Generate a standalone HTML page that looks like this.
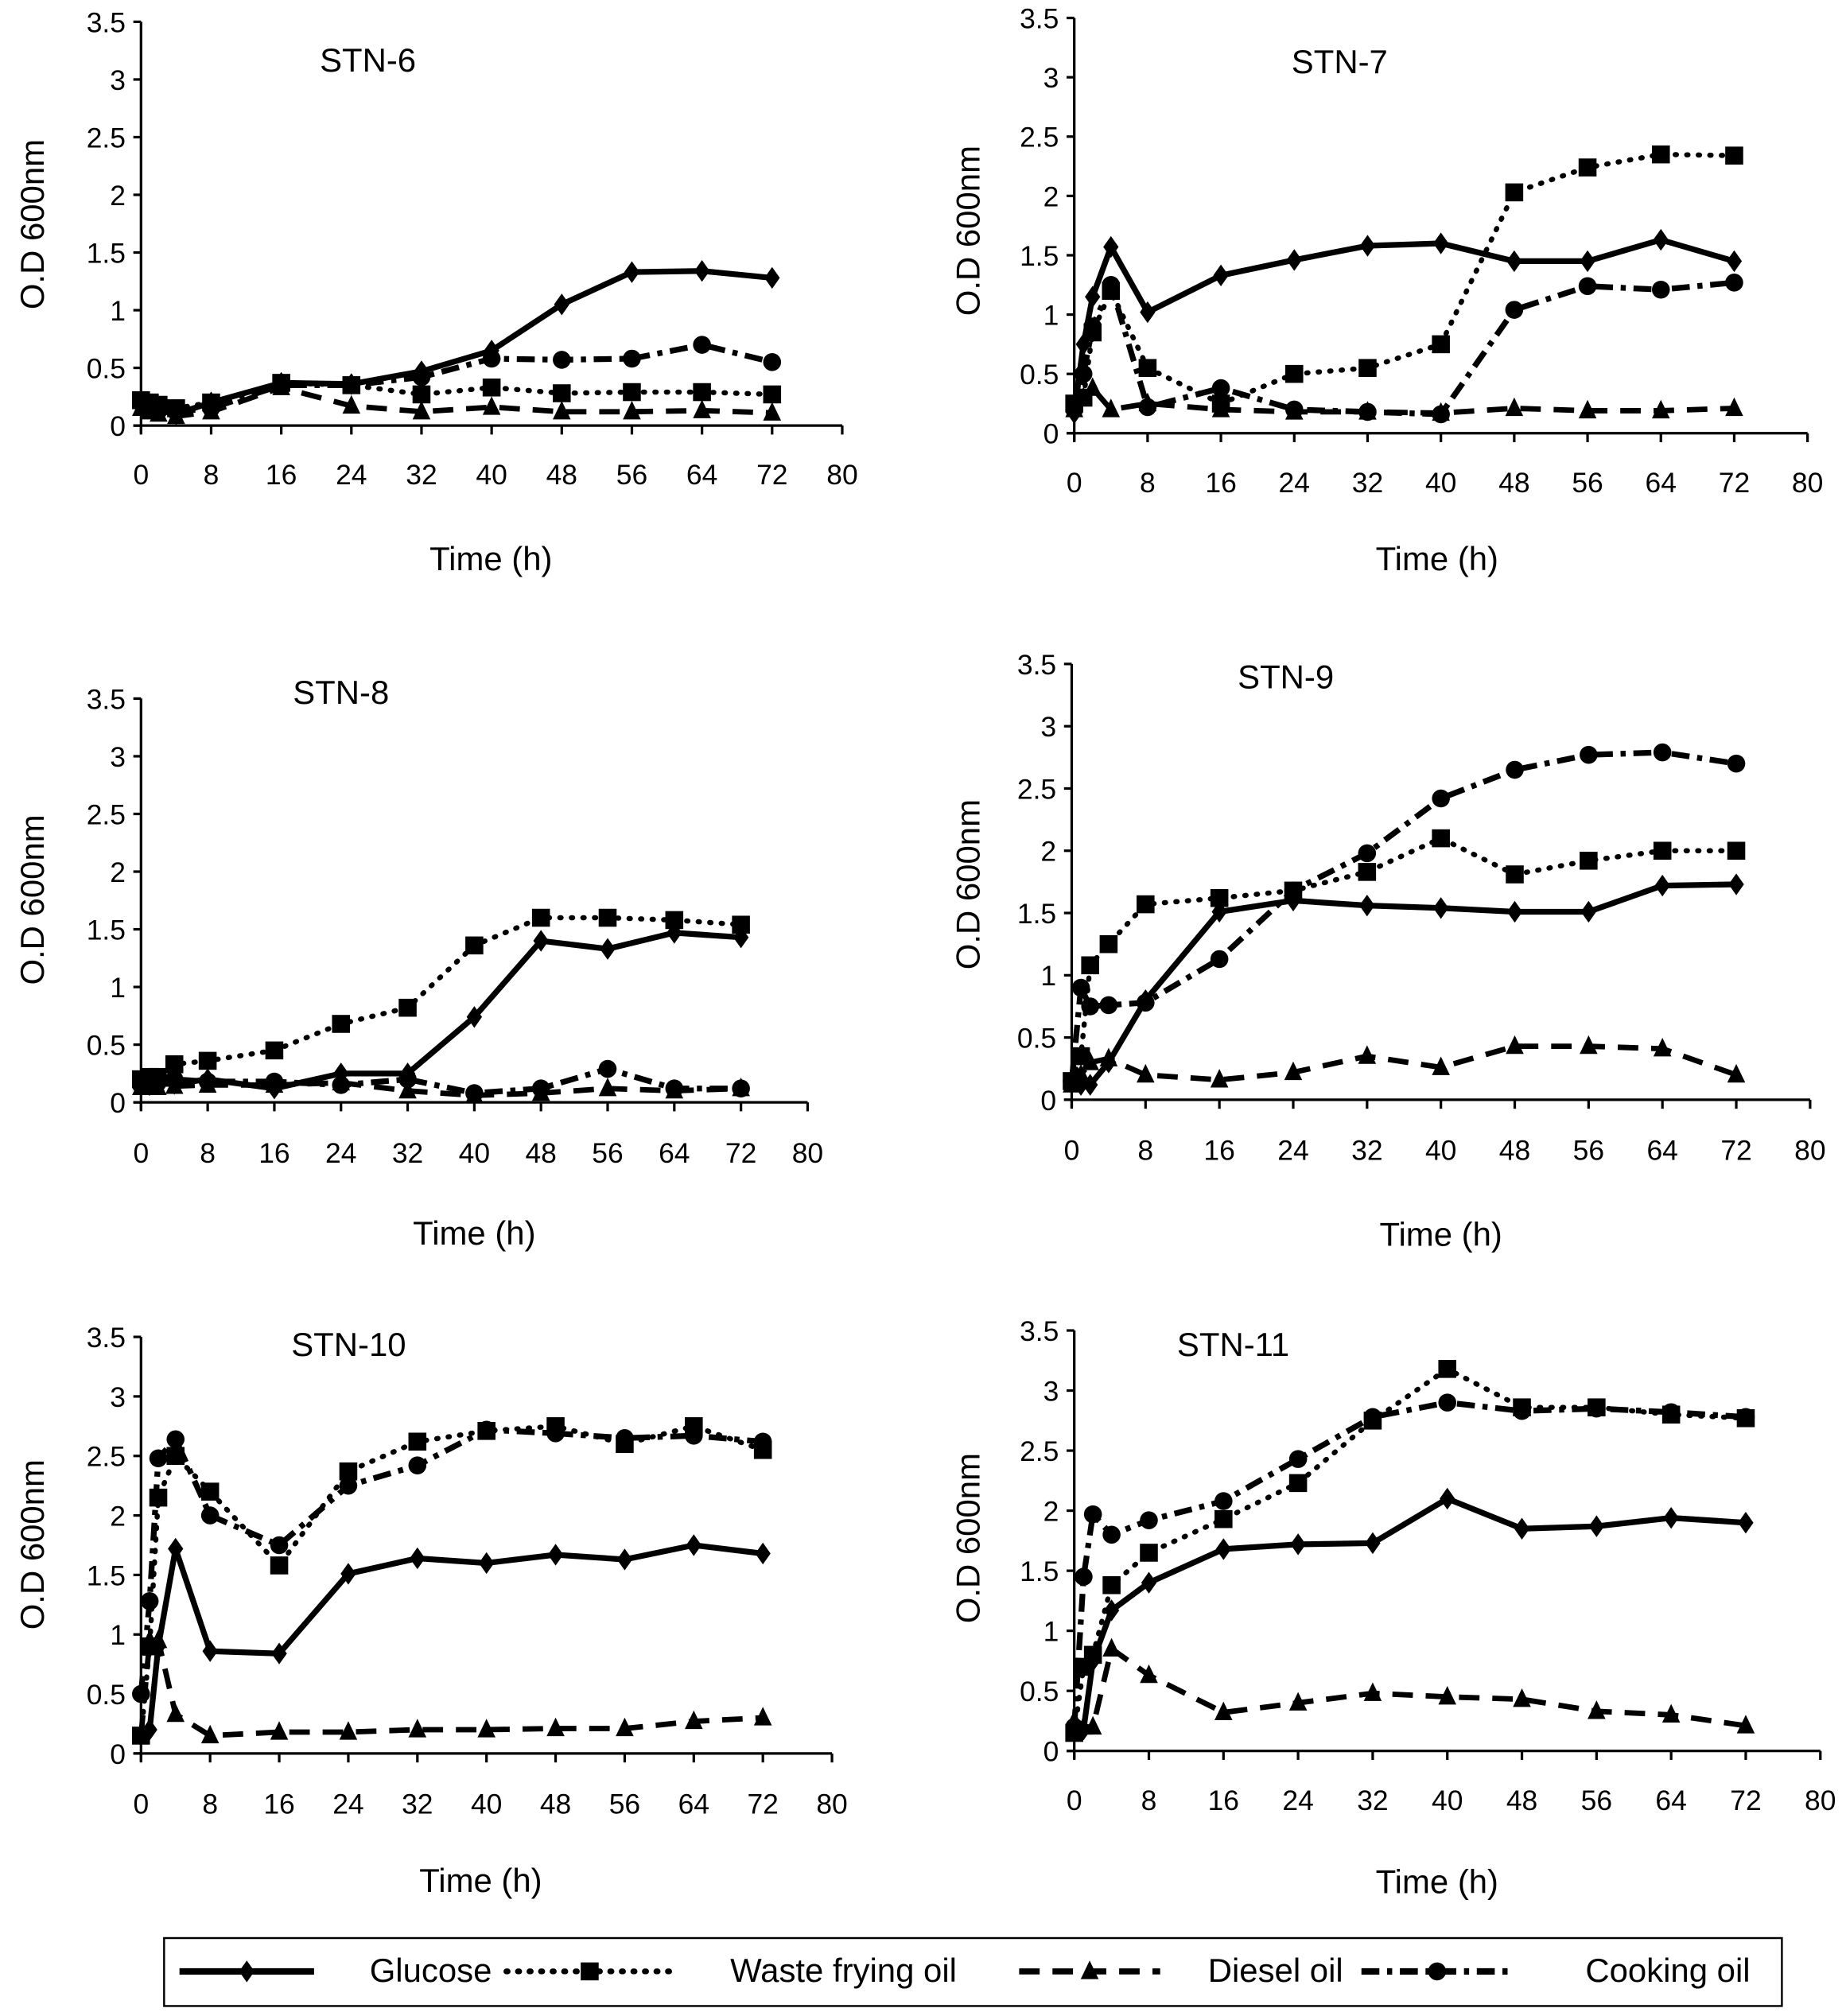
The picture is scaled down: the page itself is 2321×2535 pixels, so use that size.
<!DOCTYPE html>
<html><head><meta charset="utf-8"><style>html,body{margin:0;padding:0;background:#fff}svg{display:block}text{font-family:"Liberation Sans",sans-serif;fill:#000}</style></head>
<body>
<svg id="fig" width="2321" height="2535" viewBox="0 0 1440 1572.8" preserveAspectRatio="none" xmlns="http://www.w3.org/2000/svg"></svg>
<script>
const times=[0,1,2,4,8,16,24,32,40,48,56,64,72];
const xTicks=[0,8,16,24,32,40,48,56,64,72,80];
const yTicks=[0,0.5,1,1.5,2,2.5,3,3.5];
const yTickLabels=["0","0.5","1","1.5","2","2.5","3","3.5"];
const panelTitles=["STN-6","STN-7","STN-8","STN-9","STN-10","STN-11"];
const glucose6=[0.2,0.15,0.13,0.1,0.2,0.37,0.36,0.47,0.65,1.05,1.33,1.34,1.28];
const wfo6=[0.22,0.2,0.18,0.15,0.2,0.37,0.35,0.27,0.33,0.28,0.29,0.29,0.27];
const diesel6=[0.15,0.12,0.1,0.08,0.12,0.33,0.17,0.12,0.16,0.12,0.12,0.13,0.11];
const cooking6=[0.2,0.15,0.13,0.12,0.15,0.35,0.35,0.42,0.58,0.57,0.58,0.7,0.55];
const glucose7=[0.17,0.75,1.15,1.57,1.02,1.33,1.46,1.58,1.6,1.45,1.45,1.63,1.45];
const wfo7=[0.25,0.3,0.85,1.2,0.55,0.25,0.5,0.55,0.75,2.03,2.24,2.35,2.34];
const diesel7=[0.2,0.3,0.38,0.2,0.25,0.2,0.18,0.18,0.17,0.21,0.19,0.19,0.21];
const cooking7=[0.2,0.5,0.9,1.25,0.22,0.38,0.2,0.18,0.16,1.04,1.24,1.21,1.27];
const glucose8=[0.15,0.15,0.16,0.16,0.2,0.12,0.25,0.25,0.74,1.4,1.33,1.47,1.43];
const wfo8=[0.2,0.22,0.22,0.33,0.36,0.45,0.68,0.82,1.36,1.6,1.6,1.58,1.54];
const diesel8=[0.13,0.13,0.13,0.14,0.15,0.15,0.17,0.1,0.06,0.08,0.12,0.1,0.12];
const cooking8=[0.15,0.16,0.17,0.2,0.18,0.18,0.15,0.2,0.08,0.12,0.29,0.12,0.12];
const glucose9=[0.15,0.12,0.12,0.3,0.8,1.51,1.6,1.56,1.54,1.51,1.51,1.72,1.73];
const wfo9=[0.15,0.35,1.08,1.25,1.57,1.62,1.68,1.83,2.1,1.81,1.92,2.0,2.0];
const diesel9=[0.12,0.2,0.3,0.33,0.2,0.16,0.22,0.35,0.26,0.43,0.43,0.41,0.2];
const cooking9=[0.15,0.9,0.75,0.76,0.78,1.13,1.68,1.98,2.42,2.65,2.77,2.79,2.7];
const glucose10=[0.15,0.2,0.9,1.72,0.86,0.84,1.51,1.64,1.6,1.67,1.63,1.75,1.68];
const wfo10=[0.15,0.9,2.15,2.5,2.2,1.58,2.37,2.62,2.71,2.75,2.6,2.75,2.55];
const diesel10=[0.15,0.95,0.95,0.33,0.15,0.18,0.18,0.2,0.2,0.21,0.21,0.27,0.3];
const cooking10=[0.5,1.28,2.48,2.64,2.0,1.75,2.25,2.42,2.72,2.69,2.65,2.67,2.62];
const glucose11=[0.2,0.18,0.75,1.17,1.4,1.68,1.72,1.73,2.1,1.85,1.87,1.94,1.9];
const wfo11=[0.15,0.7,0.8,1.38,1.65,1.93,2.23,2.75,3.18,2.86,2.86,2.8,2.77];
const diesel11=[0.25,0.2,0.2,0.85,0.63,0.32,0.4,0.48,0.45,0.43,0.33,0.3,0.21];
const cooking11=[0.2,1.45,1.97,1.8,1.92,2.08,2.43,2.78,2.9,2.83,2.85,2.82,2.78];

const NS="http://www.w3.org/2000/svg";
const svg=document.getElementById('fig');
function mk(tag,attrs,parent){const e=document.createElementNS(NS,tag);for(const k in attrs)e.setAttribute(k,attrs[k]);(parent||svg).appendChild(e);return e;}
const layouts=[
 {x0:110,x80:657,y0:332,y35:17,tx:287,ty:56,lab:378,time:[383,445],yl:[25,175]},
 {x0:838,x80:1410,y0:338,y35:14,tx:1045,ty:57,lab:384,time:[1121,445],yl:[755,180]},
 {x0:110,x80:630,y0:860,y35:545,tx:266,ty:549,lab:907,time:[370,971],yl:[25,702]},
 {x0:836,x80:1412,y0:858,y35:518,tx:1003,ty:537,lab:905,time:[1124,972],yl:[755,690]},
 {x0:110,x80:649,y0:1368,y35:1043,tx:272,ty:1058,lab:1415,time:[375,1476],yl:[25,1205]},
 {x0:838,x80:1420,y0:1366,y35:1038,tx:962,ty:1058,lab:1412,time:[1121,1477],yl:[755,1200]}
];
const series=[[glucose6,wfo6,diesel6,cooking6],[glucose7,wfo7,diesel7,cooking7],[glucose8,wfo8,diesel8,cooking8],[glucose9,wfo9,diesel9,cooking9],[glucose10,wfo10,diesel10,cooking10],[glucose11,wfo11,diesel11,cooking11]];
const names=['glucose','waste-frying-oil','diesel-oil','cooking-oil'];
const styles=[{w:4.5,d:''},{w:4,d:'1 8'},{w:4.2,d:'16 10'},{w:4.5,d:'14 6 4 6'}];
function marker(g,k,x,y){
 let m;
 if(k===0)m=mk('path',{d:`M${x} ${y-8.5}L${x+6} ${y}L${x} ${y+8.5}L${x-6} ${y}Z`},g);
 else if(k===1)m=mk('rect',{x:x-7,y:y-7,width:14,height:14},g);
 else if(k===2)m=mk('path',{d:`M${x} ${y-8.5}L${x+7} ${y+6}L${x-7} ${y+6}Z`},g);
 else m=mk('circle',{cx:x,cy:y,r:7},g);
 m.setAttribute('fill','#000');
 
 
}
layouts.forEach((L,p)=>{
 const g=mk('g',{});
 
 
 const X=t=>L.x0+(L.x80-L.x0)*t/80;
 const Y=v=>L.y0-(L.y0-L.y35)*v/3.5;
 const ya=mk('line',{x1:L.x0,y1:L.y35,x2:L.x0,y2:L.y0+6,stroke:'#000','stroke-width':2},g);
 
 const xa=mk('line',{x1:L.x0-6,y1:L.y0,x2:L.x80,y2:L.y0,stroke:'#000','stroke-width':2},g);
 
 yTicks.forEach((v,i)=>{
  mk('line',{x1:L.x0-6,y1:Y(v),x2:L.x0,y2:Y(v),stroke:'#000','stroke-width':2},g);
  const t=mk('text',{x:L.x0-12,y:Y(v)+8,'text-anchor':'end','font-size':22},g);
  t.textContent=yTickLabels[i];
  
 });
 xTicks.forEach(v=>{
  mk('line',{x1:X(v),y1:L.y0,x2:X(v),y2:L.y0+7,stroke:'#000','stroke-width':2},g);
  const t=mk('text',{x:X(v),y:L.lab,'text-anchor':'middle','font-size':22},g);
  t.textContent=String(v);
  
 });
 const tt=mk('text',{x:L.tx,y:L.ty,'text-anchor':'middle','font-size':26},g);
 tt.textContent=panelTitles[p];
 
 const xt=mk('text',{x:L.time[0],y:L.time[1],'text-anchor':'middle','font-size':26},g);
 xt.textContent='Time (h)';
 
 const yt=mk('text',{x:L.yl[0],y:L.yl[1],'text-anchor':'middle','font-size':26,transform:`rotate(-90 ${L.yl[0]} ${L.yl[1]})`,'dominant-baseline':'central'},g);
 yt.textContent='O.D 600nm';
 
 [1,2,3,0].forEach(k=>{
  const vals=series[p][k];
  const pts=vals.map((v,i)=>X(times[i])+','+Y(v)).join(' ');
  const pl=mk('polyline',{points:pts,fill:'none',stroke:'#000','stroke-width':styles[k].w,'stroke-linecap':k===1?'round':'butt','stroke-linejoin':'round'},g);
  if(styles[k].d)pl.setAttribute('stroke-dasharray',styles[k].d);
  
  
  vals.forEach((v,i)=>marker(g,k,X(times[i]),Y(v)));
 });
});
const lg=mk('g',{});


mk('rect',{x:128,y:1512,width:1262,height:53,fill:'#fff',stroke:'#000','stroke-width':1.5},lg);
const legItems=[{x1:140,x2:245,tx:336,label:'Glucose'},{x1:395,x2:525,tx:658,label:'Waste frying oil'},{x1:795,x2:905,tx:995,label:'Diesel oil'},{x1:1062,x2:1180,tx:1301,label:'Cooking oil'}];
legItems.forEach((it,k)=>{
 const e=mk('g',{},lg);
 
 
 const l=mk('line',{x1:it.x1,y1:1538,x2:it.x2,y2:1538,stroke:'#000','stroke-width':styles[k].w+0.5,'stroke-linecap':k===1?'round':'butt'},e);
 if(styles[k].d)l.setAttribute('stroke-dasharray',styles[k].d);
 marker(e,k,(it.x1+it.x2)/2,1538);
 const t=mk('text',{x:it.tx,y:1546,'text-anchor':'middle','font-size':26},e);
 t.textContent=it.label;
});
</script>
</body></html>
